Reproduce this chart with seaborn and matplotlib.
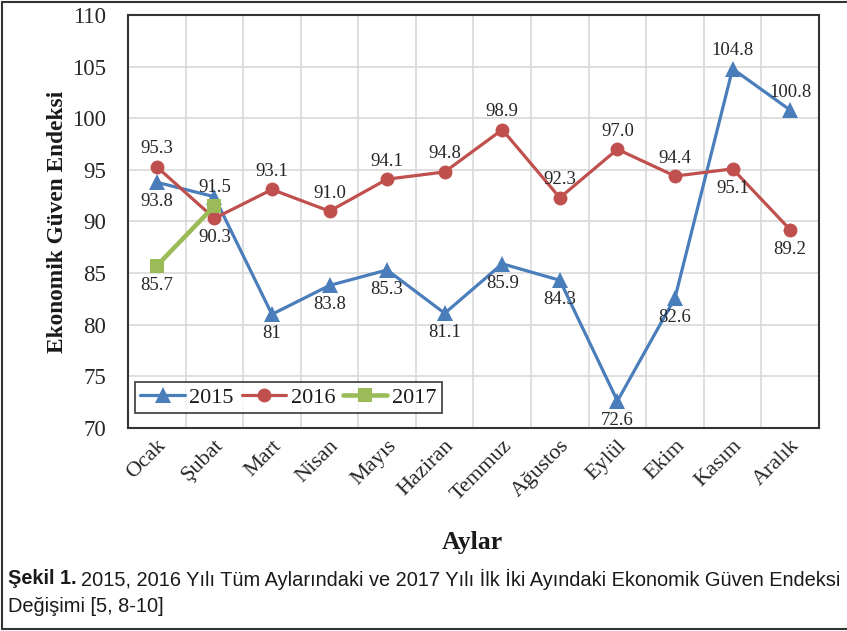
import numpy as np
import pandas as pd
import seaborn as sns
import matplotlib.pyplot as plt
from matplotlib.lines import Line2D
from matplotlib.ticker import FixedLocator

months = ['Ocak', 'Şubat', 'Mart', 'Nisan', 'Mayıs', 'Haziran',
          'Temmuz', 'Ağustos', 'Eylül', 'Ekim', 'Kasım', 'Aralık']
y2015 = [93.8, 92.4, 81.0, 83.8, 85.3, 81.1, 85.9, 84.3, 72.6, 82.6, 104.8, 100.8]
y2016 = [95.3, 90.3, 93.1, 91.0, 94.1, 94.8, 98.9, 92.3, 97.0, 94.4, 95.1, 89.2]
y2017 = [85.7, 91.5]

# label text per point (None = no label), and where it sits
lab2015 = ['93.8', None, '81', '83.8', '85.3', '81.1', '85.9', '84.3', '72.6', '82.6', '104.8', '100.8']
pos2015 = ['b', None, 'b', 'b', 'b', 'b', 'b', 'b', 'b', 'b', 'a', 'a']
lab2016 = ['95.3', '90.3', '93.1', '91.0', '94.1', '94.8', '98.9', '92.3', '97.0', '94.4', '95.1', '89.2']
pos2016 = ['a', 'b', 'a', 'a', 'a', 'a', 'a', 'a', 'a', 'a', 'b', 'b']
lab2017 = ['85.7', '91.5']
pos2017 = ['b', 'a']

caption_bold = 'Şekil 1.'
caption_1 = '2015, 2016 Yılı Tüm Aylarındaki ve 2017 Yılı İlk İki Ayındaki Ekonomik Güven Endeksi'
caption_2 = 'Değişimi [5, 8-10]'

sns.set_style('white')
plt.rcParams['font.family'] = ['Liberation Serif', 'DejaVu Serif']

fig = plt.figure(figsize=(8.47, 6.31), dpi=100)
ax = fig.add_axes([0.1511, 0.322, 0.8158, 0.654])

df15 = pd.DataFrame({'Ay': months, 'Deger': y2015})
df16 = pd.DataFrame({'Ay': months, 'Deger': y2016})
df17 = pd.DataFrame({'Ay': months[:2], 'Deger': y2017})

blue, red, green = '#4a7ebb', '#c0504d', '#9bbb59'
sns.lineplot(data=df15, x='Ay', y='Deger', ax=ax, color=blue, marker='^', markersize=11,
             markeredgewidth=0, linewidth=2.3, label='2015', sort=False)
sns.lineplot(data=df16, x='Ay', y='Deger', ax=ax, color=red, marker='o', markersize=10,
             markeredgewidth=0, linewidth=2.3, label='2016', sort=False)
sns.lineplot(data=df17, x='Ay', y='Deger', ax=ax, color=green, marker='s', markersize=10,
             markeredgewidth=0, linewidth=3.3, label='2017', sort=False)

def add_labels(vals, labs, poss):
    for i, (v, t, p) in enumerate(zip(vals, labs, poss)):
        if t is None:
            continue
        dy = 13 if p == 'a' else -14
        ax.annotate(t, (i, v), xytext=(0, dy), textcoords='offset points',
                    ha='center', va='center', fontsize=13.5, color='#262626')

add_labels(y2015, lab2015, pos2015)
add_labels(y2016, lab2016, pos2016)
add_labels(y2017, lab2017, pos2017)

ax.set_xlim(-0.5, 11.5)
ax.set_ylim(70, 110)
ax.set_yticks(np.arange(70, 111, 5))
ax.xaxis.set_minor_locator(FixedLocator(np.arange(-0.5, 12, 1)))
ax.grid(True, which='minor', axis='x', color='#d9d9d9', linewidth=1.2)
ax.grid(True, which='major', axis='y', color='#d9d9d9', linewidth=1.2)
ax.grid(False, which='major', axis='x')
ax.tick_params(axis='both', which='both', length=0)
ax.tick_params(axis='y', labelsize=16.5, pad=16, colors='#262626')
ax.tick_params(axis='x', labelsize=16, pad=6, colors='#262626')
plt.setp(ax.get_xticklabels(), rotation=45, ha='right', rotation_mode='anchor')
for s in ax.spines.values():
    s.set_color('#333333')
    s.set_linewidth(1.5)

ax.set_xlabel('')
ax.set_ylabel('Ekonomik Güven Endeksi', fontsize=16.8, fontweight='bold', color='#1a1a1a')
ax.yaxis.set_label_coords(-0.087, 0.5)

leg = ax.legend(loc='lower left', bbox_to_anchor=(0.01, 0.035), ncol=3, fontsize=16,
                frameon=True, fancybox=False, handlelength=2.0, handletextpad=0.2,
                columnspacing=0.35, borderpad=0.25, borderaxespad=0)
leg.get_frame().set_edgecolor('#1a1a1a')
leg.get_frame().set_linewidth(1.3)
for t in leg.get_texts():
    t.set_color('#1a1a1a')

fig.text(0.558, 1 - 542 / 631, 'Aylar', ha='center', va='center', fontsize=18.5,
         fontweight='bold', color='#1a1a1a')

# caption, shrunk so the first line ends at the right edge like the reference
sans = ['Liberation Sans', 'DejaVu Sans']
fs = 15
t1 = fig.text(8 / 847, 1 - 579 / 631, caption_bold, ha='left', va='center', fontsize=fs,
              fontweight='bold', family=sans, color='#1a1a1a')
t2 = fig.text(0, 1 - 579 / 631, caption_1, ha='left', va='center', fontsize=fs,
              family=sans, color='#1a1a1a')
r = fig.canvas.get_renderer()
w = t1.get_window_extent(renderer=r).width + 5 + t2.get_window_extent(renderer=r).width
fs = fs * (845 - 8) / w
t1.set_fontsize(fs)
t2.set_fontsize(fs)
bb = t1.get_window_extent(renderer=r)
t2.set_x((bb.x1 + 4) / 847)
fig.text(8 / 847, 1 - 607 / 631, caption_2, ha='left', va='center',
         fontsize=fs, family=sans, color='#1a1a1a')

# outer frame
fc = '#333333'
fig.add_artist(Line2D([1.5 / 847, 1], [1 - 1.5 / 631] * 2, color=fc, lw=1.5, transform=fig.transFigure))
fig.add_artist(Line2D([1.5 / 847, 1], [1 - 628.5 / 631] * 2, color=fc, lw=1.5, transform=fig.transFigure))
fig.add_artist(Line2D([1.5 / 847] * 2, [1 - 1.5 / 631, 1 - 628.5 / 631], color=fc, lw=1.5, transform=fig.transFigure))

fig.savefig('out.png', dpi=100)
